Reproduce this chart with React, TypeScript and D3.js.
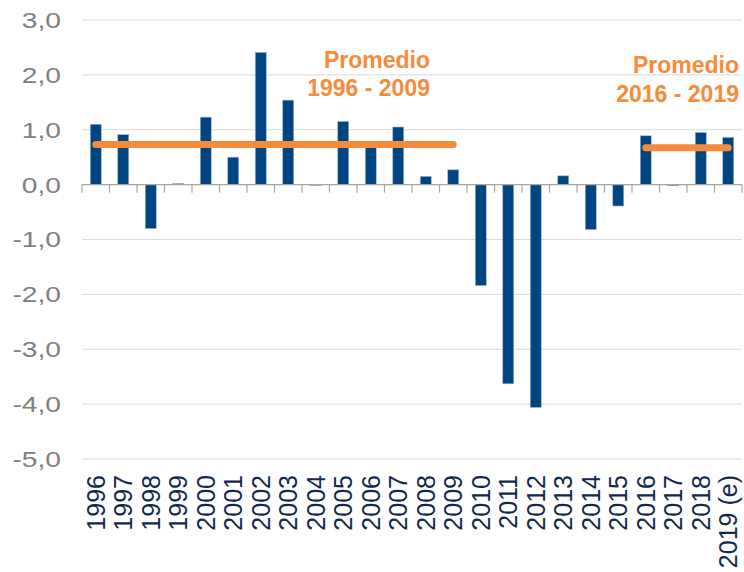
import React from "react";
import * as d3 from "d3";

const categories = ["1996","1997","1998","1999","2000","2001","2002","2003","2004","2005","2006","2007","2008","2009","2010","2011","2012","2013","2014","2015","2016","2017","2018","2019 (e)"];
const values = [1.10,0.91,-0.80,0.02,1.23,0.50,2.41,1.54,-0.01,1.15,0.70,1.05,0.15,0.27,-1.84,-3.63,-4.06,0.16,-0.82,-0.39,0.89,-0.02,0.95,0.86];
const yTicks = [3,2,1,0,-1,-2,-3,-4,-5];
const averages = [
  { from: "1996", to: "2009", value: 0.73, label1: "Promedio", label2: "1996 - 2009" },
  { from: "2016", to: "2019 (e)", value: 0.67, label1: "Promedio", label2: "2016 - 2019" },
];

const W = 744, H = 572;
const left = 82, right = 742, top = 20, bottom = 459;

export default function App() {
  const x = d3.scaleBand<string>().domain(categories).range([left, right]).paddingInner(0).paddingOuter(0);
  const y = d3.scaleLinear().domain([-5, 3]).range([bottom, top]);
  const bw = x.bandwidth();
  const barW = bw * 0.4;
  const fmt = (v: number) => d3.format(".1f")(v).replace(".", ",").replace("−", "-");
  const labelPos = [
    { x: 430, y1: 68, y2: 96 },
    { x: 739, y1: 73, y2: 102 },
  ];
  return (
    <svg width={W} height={H} style={{ position: "absolute", left: 0, top: 0, background: "#fff" }} fontFamily="'Liberation Sans', Arial, sans-serif">
      {yTicks.map((t) => (
        <g key={t}>
          {t !== 0 && <line x1={left} x2={right} y1={y(t)} y2={y(t)} stroke="#d9d9d9" strokeWidth={1} />}
          <text x={61} y={y(t)} dy="0.36em" textAnchor="end" fontSize={22} fill="#808080"
            transform={`translate(61,0) scale(1.28,1) translate(-61,0)`}>{fmt(t)}</text>
        </g>
      ))}
      {categories.map((c, i) => {
        const v = values[i];
        const y0 = y(0), y1 = y(v);
        return (
          <rect key={c} x={(x(c) as number) + (bw - barW) / 2} width={barW}
            y={Math.min(y0, y1)} height={Math.max(Math.abs(y1 - y0), 0.8)}
            fill="#004481" stroke="#9fb8d3" strokeWidth={0.6} />
        );
      })}
      <line x1={left} x2={right} y1={y(0)} y2={y(0)} stroke="#a6a6a6" strokeWidth={1.2} />
      {[...categories.map((c) => x(c) as number), right].map((tx, i) => (
        <line key={i} x1={tx} x2={tx} y1={y(0)} y2={y(0) + 8} stroke="#a6a6a6" strokeWidth={1.2} />
      ))}
      {averages.map((a, i) => (
        <g key={i}>
          <line x1={(x(a.from) as number) + bw / 2} x2={(x(a.to) as number) + bw / 2}
            y1={y(a.value)} y2={y(a.value)} stroke="#F68B3A" strokeWidth={7} strokeLinecap="round" />
          <text x={labelPos[i].x} y={labelPos[i].y1} textAnchor="end" fontSize={23} fontWeight="bold" fill="#F68B3A">{a.label1}</text>
          <text x={labelPos[i].x} y={labelPos[i].y2} textAnchor="end" fontSize={23} fontWeight="bold" fill="#F68B3A">{a.label2}</text>
        </g>
      ))}
      {categories.map((c) => {
        const cx = (x(c) as number) + bw / 2;
        return (
          <text key={c} transform={`translate(${cx},475) rotate(-90)`} textAnchor="end" dy="0.36em"
            fontSize={25} fill="#10294d">{c}</text>
        );
      })}
    </svg>
  );
}
